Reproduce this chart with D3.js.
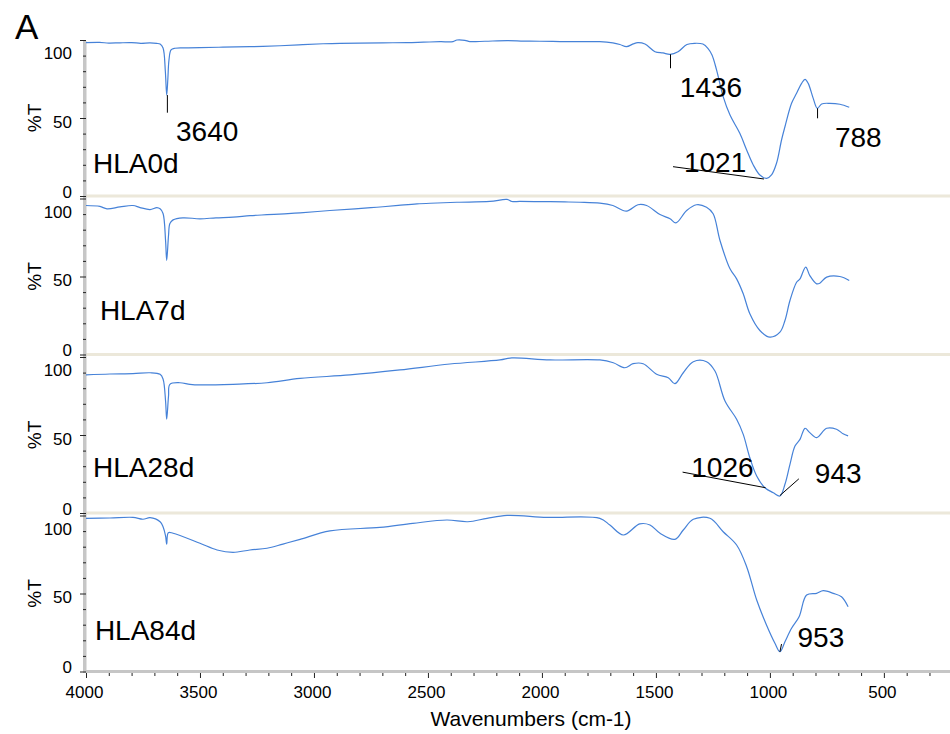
<!DOCTYPE html>
<html><head><meta charset="utf-8">
<script src="https://cdn.jsdelivr.net/npm/d3@7"></script>
<style>
body{margin:0;background:#fff}
text{font-family:"Liberation Sans",Arial,sans-serif;fill:#000}
</style>
</head><body>
<svg id="chart" width="950" height="734"></svg>
<script>
// ---------- DATA (wavenumber cm-1, %T) ----------
const samples = ["HLA0d", "HLA7d", "HLA28d", "HLA84d"];

const hla0d = [[4000,98.3],[3940,98.5],[3900,98.0],[3851,98.2],[3800,98.3],[3760,97.9],[3719,98.1],[3690,97.8],[3675,97.4],[3662,94.9],[3652,80],[3646,64.7],[3641,75],[3636,87.2],[3627,93.6],[3610,94.7],[3560,94.9],[3500,95.1],[3400,95.4],[3281,95.7],[3149,96.3],[3050,97.0],[2960,97.6],[2886,97.9],[2800,98.0],[2700,98.2],[2592,98.3],[2520,98.6],[2447,98.9],[2390,99.0],[2373,100],[2338,99.8],[2316,99.0],[2250,99.2],[2153,99.6],[2080,99.3],[2009,99.2],[1920,99.0],[1833,98.9],[1746,98.9],[1689,98.1],[1658,97.1],[1629,95.7],[1600,97.5],[1579,98.3],[1548,97.4],[1504,92.5],[1469,91.7],[1438,90.8],[1403,92.5],[1364,97.1],[1329,97.9],[1294,97.4],[1272,94.7],[1254,90.4],[1234,80.8],[1205,63.7],[1175,51.9],[1132,40.2],[1102,29.5],[1073,19.9],[1044,13.5],[1014,11.3],[993,13.5],[971,21],[949,35.9],[934,44.4],[905,59.4],[883,65.8],[861,72.2],[846,74.8],[832,72.2],[810,62.6],[792,56.2],[773,59],[737,59.4],[693,58.8],[652,56.9]];

const hla7d = [[4000,95.5],[3939,94.9],[3908,93.4],[3851,94.6],[3794,95.5],[3763,94.2],[3719,92.9],[3689,94.2],[3675,93.4],[3662,90.4],[3651,73.1],[3646,60.3],[3638,76.3],[3632,84],[3618,86.3],[3575,87.6],[3500,87],[3430,87.6],[3355,88],[3280,89],[3206,89.6],[3130,90.2],[3061,90.8],[2930,92.3],[2820,93.4],[2724,94.4],[2630,95.6],[2548,96.6],[2460,97.1],[2373,97.6],[2228,98.1],[2153,99.4],[2132,98.1],[2097,98.1],[2000,98.0],[1900,97.8],[1833,97.6],[1746,97],[1689,95.5],[1629,91.9],[1579,96],[1541,95.5],[1482,89.7],[1438,87],[1412,84.4],[1365,92.3],[1322,96],[1278,94.4],[1249,90.2],[1219,73.1],[1175,54.9],[1146,48.5],[1117,38.9],[1088,26.1],[1044,15.4],[1000,11.1],[956,14.3],[934,21.8],[912,34.6],[883,46.3],[868,48.5],[843,56],[825,50.6],[795,45.3],[781,45.7],[751,49.6],[693,50],[652,47.4]];

const hla28d = [[4000,88.5],[3895,89.1],[3794,89.3],[3719,89.9],[3675,88.9],[3662,85.9],[3651,71.8],[3646,60.1],[3638,75],[3632,82.5],[3588,83.5],[3544,82.5],[3500,82.1],[3355,82.5],[3206,83.5],[3061,86.3],[2842,88.5],[2623,91.7],[2404,95.5],[2184,98.1],[2132,99.4],[1965,98.1],[1746,98.1],[1687,96.3],[1636,93.1],[1600,95.7],[1556,95.7],[1497,88.9],[1446,86.7],[1417,82.9],[1380,89.9],[1336,97],[1278,97],[1241,91],[1197,71.8],[1146,60.1],[1117,50.4],[1088,35.4],[1058,23.7],[1022,16.2],[985,13],[956,10.9],[934,18.4],[912,31.2],[890,42.9],[868,47.2],[846,54.3],[825,51.5],[795,48.3],[751,54.3],[708,53.7],[679,50.8],[657,49.4]];

const hla84d = [[4000,98.2],[3895,98.4],[3794,98.8],[3750,97.6],[3719,98.6],[3675,96],[3662,92.8],[3651,86.9],[3646,81.7],[3639,89],[3618,88.6],[3500,82.2],[3425,77.9],[3355,76.4],[3281,77.9],[3206,79],[3136,81.7],[3061,84.7],[2930,90.1],[2711,92.4],[2566,95],[2417,97.1],[2325,96],[2241,98.2],[2153,100.1],[1978,98.8],[1746,98.2],[1702,93.9],[1643,87.5],[1571,94.6],[1526,93.9],[1482,88.6],[1417,84.7],[1380,90.7],[1336,97.6],[1263,98.2],[1205,89.6],[1146,81.1],[1102,67.2],[1058,45.8],[1015,29.8],[978,18.1],[956,12.7],[934,19.1],[905,27.7],[872,35.1],[839,49],[795,50.1],[766,51.8],[722,50.1],[686,47.9],[657,41.5]];

const spectra = [hla0d, hla7d, hla28d, hla84d];

// sample name anchors (wavenumber, %T)
const sampleLabelAt = [[3969,14.9],[3939,22.2],[3969,22.9],[3961,20.2]];

// peak annotations: text, panel, text anchor (w,T), leader line ends (w,T)
const peakText  = ["3640", "1436", "788", "1021", "1026", "943", "953"];
const peakPanel = [0, 0, 0, 0, 2, 2, 3];
const peakTextAt = [[3605,35.4],[1395,63.7],[715,31.6],[1377,15.6],[1345,22.9],[803,19.4],[879,15.5]];
const peakLine  = [[[3643,64.7],[3643,53.4]],[[1436,90.8],[1436,81.9]],[[791,56.2],[791,49.8]],[[1425,18.8],[1026,10.9]],[[1383,26.2],[1019,16.2]],[[956,11.2],[873,21.9]],[[956,12.7],[949,17.6]]];

const yTicks = d3.range(0, 101, 10);
const yLabels = [0, 50, 100];
const xMajor = [4000, 3500, 3000, 2500, 2000, 1500, 1000, 500];
const xMinor = d3.range(4000, 299, -100);

// ---------- DRAW ----------
const svg = d3.select("#chart");
const x = d3.scaleLinear().domain([4000, 210]).range([86, 950]);
const panelBottom = i => 196 + i * 158.5;
const yScales = samples.map((s, i) => d3.scaleLinear().domain([0, 100]).range([panelBottom(i), panelBottom(i) - 156]));

// beige separators
[0, 1, 2].forEach(i => {
  svg.append("rect").attr("x", 86).attr("width", 864)
    .attr("y", panelBottom(i) - 1.5).attr("height", 3).attr("fill", "#ece8da");
});

// gray axis bars
svg.append("rect").attr("x", 83).attr("y", 41).attr("width", 3.5).attr("height", 632).attr("fill", "#c6c6c6");
svg.append("rect").attr("x", 83).attr("y", 670).attr("width", 867).attr("height", 3).attr("fill", "#c6c6c6");

// spectra
spectra.forEach((data, i) => {
  const y = yScales[i];
  const line = d3.line().x(d => x(d[0])).y(d => y(d[1])).curve(d3.curveCatmullRom.alpha(0.5));
  svg.append("path").datum(data).attr("d", line)
    .attr("fill", "none").attr("stroke", "#4682d8").attr("stroke-width", 1.2)
    .attr("stroke-linejoin", "round");
});

// y axes
yScales.forEach((y, i) => {
  const g = svg.append("g").attr("transform", "translate(86,0)")
    .call(d3.axisLeft(y).tickValues(yTicks).tickSize(3).tickPadding(11)
      .tickFormat(d => yLabels.includes(d) ? d : ""));
  g.select(".domain").remove();
  g.selectAll(".tick line").attr("stroke", "#222")
    .attr("x2", d => d % 50 === 0 ? -6 : -3);
  g.selectAll(".tick text").attr("font-size", 17)
    .attr("font-family", '"Liberation Sans",Arial,sans-serif').attr("fill", "#000")
    .attr("dy", d => d === 100 ? "1.1em" : d === 50 ? "0.55em" : "0.08em");
  // %T label
  svg.append("text").attr("transform", `translate(41,${panelBottom(i) - 78}) rotate(-90)`)
    .attr("text-anchor", "middle").attr("font-size", 19).text("%T");
  // sample label
  svg.append("text").attr("x", x(sampleLabelAt[i][0])).attr("y", y(sampleLabelAt[i][1]))
    .attr("font-size", 28).text(samples[i]);
});

// x axis
const gx = svg.append("g").attr("transform", "translate(0,673)")
  .call(d3.axisBottom(x).tickValues(xMinor).tickSize(3)
    .tickFormat(d => xMajor.includes(d) ? d : ""));
gx.select(".domain").remove();
gx.selectAll(".tick line").attr("stroke", "#222").attr("y2", d => d % 500 === 0 ? 5 : 3);
gx.selectAll(".tick text").attr("font-size", 17).attr("y", 13).attr("dx", -2)
  .attr("font-family", '"Liberation Sans",Arial,sans-serif').attr("fill", "#000");

svg.append("text").attr("x", 531).attr("y", 726).attr("text-anchor", "middle")
  .attr("font-size", 21).text("Wavenumbers (cm-1)");

svg.append("text").attr("x", 15).attr("y", 39).attr("font-size", 35).text("A");

// peak annotations
peakText.forEach((t, k) => {
  const y = yScales[peakPanel[k]];
  const [a, b] = peakLine[k];
  svg.append("line").attr("x1", x(a[0])).attr("y1", y(a[1])).attr("x2", x(b[0])).attr("y2", y(b[1]))
    .attr("stroke", "#000").attr("stroke-width", 1);
  svg.append("text").attr("x", x(peakTextAt[k][0])).attr("y", y(peakTextAt[k][1]))
    .attr("font-size", 28).text(t);
});
</script>
</body></html>
